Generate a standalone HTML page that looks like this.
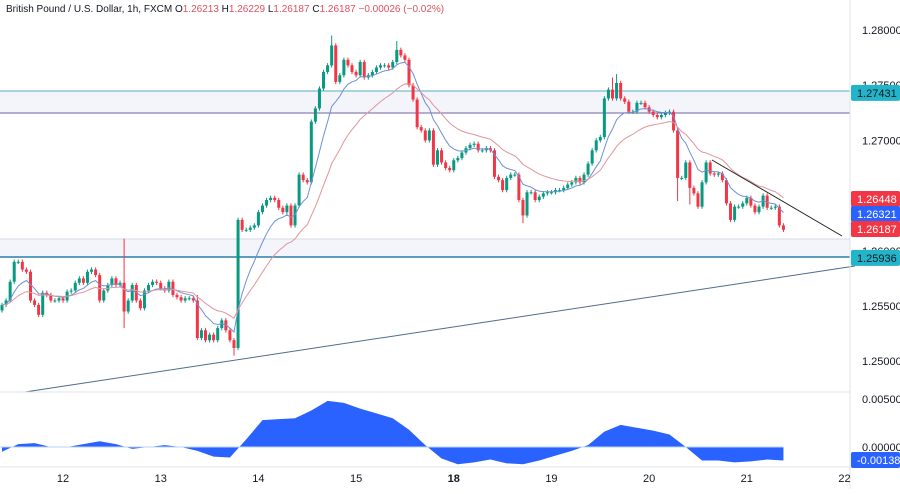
<!DOCTYPE html>
<html><head><meta charset="utf-8"><style>
body{margin:0;background:#fff;font-family:"Liberation Sans",sans-serif;}
svg text{font-family:"Liberation Sans",sans-serif;}
</style></head><body>
<svg id="c" width="900" height="489" viewBox="0 0 900 489">
<rect x="0" y="0" width="900" height="489" fill="#fff"/>
<g id="grid"></g>
<rect x="0" y="91" width="850" height="22" fill="#f4f5fb"/>
<rect x="0" y="239" width="850" height="18" fill="#f4f5fb"/>
<line x1="0" y1="91" x2="850" y2="91" stroke="#5aaebf" stroke-width="1"/>
<line x1="0" y1="113" x2="850" y2="113" stroke="#6d62a8" stroke-width="1"/>
<line x1="0" y1="239" x2="850" y2="239" stroke="#d6dae6" stroke-width="1"/>
<line x1="0" y1="257" x2="850" y2="257" stroke="#2c7fa6" stroke-width="1.5"/>
<line x1="25" y1="392" x2="855" y2="266" stroke="#4f6d8c" stroke-width="1"/>
<g id="candles"></g>
<g id="mas"></g>
<line x1="712" y1="160" x2="842" y2="236" stroke="#222" stroke-width="1"/>
<line x1="0" y1="392" x2="850" y2="392" stroke="#e0e3eb"/>
<line x1="850" y1="0" x2="850" y2="489" stroke="#e0e3eb"/>
<line x1="0" y1="467" x2="900" y2="467" stroke="#e0e3eb"/>
<g id="osc"></g>
<g id="axes"></g>
<text x="6" y="12" font-size="10" fill="#131722">British Pound / U.S. Dollar, 1h, FXCM  <tspan fill="#131722">O</tspan><tspan fill="#e0505d">1.26213</tspan>  <tspan fill="#131722">H</tspan><tspan fill="#e0505d">1.26229</tspan>  <tspan fill="#131722">L</tspan><tspan fill="#e0505d">1.26187</tspan>  <tspan fill="#131722">C</tspan><tspan fill="#e0505d">1.26187  −0.00026 (−0.02%)</tspan></text>
</svg>
<script>
const closes=[1.2551,1.2555,1.2572,1.2590,1.2590,1.2583,1.2581,1.2555,1.2551,1.2542,1.2562,1.2560,1.2555,1.2555,1.2557,1.2555,1.2563,1.2564,1.2571,1.2575,1.2571,1.2581,1.2583,1.2578,1.2555,1.2564,1.2569,1.2575,1.2569,1.2571,1.2545,1.2555,1.2569,1.2555,1.2548,1.2564,1.2569,1.2572,1.2571,1.2566,1.2564,1.2572,1.2560,1.2558,1.2555,1.2557,1.2557,1.2555,1.2521,1.2528,1.2519,1.2524,1.2519,1.2530,1.2537,1.2528,1.2519,1.2512,1.2628,1.2619,1.2619,1.2621,1.2623,1.2635,1.2641,1.2646,1.2648,1.2646,1.2639,1.2635,1.2641,1.2623,1.2641,1.2669,1.2664,1.2662,1.2717,1.2729,1.2747,1.2762,1.2768,1.2786,1.2753,1.2759,1.2773,1.2768,1.2762,1.2759,1.2771,1.2757,1.2759,1.2762,1.2766,1.2768,1.2768,1.2766,1.2771,1.2782,1.2777,1.2773,1.2750,1.2737,1.2712,1.2709,1.2700,1.2709,1.2678,1.2691,1.2680,1.2675,1.2673,1.2682,1.2684,1.2689,1.2693,1.2696,1.2697,1.2691,1.2691,1.2693,1.2691,1.2667,1.2664,1.2655,1.2666,1.2669,1.2669,1.2646,1.2632,1.2653,1.2653,1.2646,1.2649,1.2652,1.2653,1.2653,1.2655,1.2655,1.2657,1.2660,1.2662,1.2666,1.2662,1.2669,1.2679,1.2691,1.2700,1.2703,1.2738,1.2746,1.2738,1.2752,1.2738,1.2735,1.2726,1.2726,1.2734,1.2734,1.2730,1.2726,1.2723,1.2721,1.2723,1.2725,1.2726,1.2709,1.2666,1.2666,1.2680,1.2657,1.2652,1.2640,1.2662,1.2680,1.2670,1.2669,1.2670,1.2664,1.2643,1.2628,1.2640,1.2640,1.2643,1.2648,1.2641,1.2635,1.2640,1.2650,1.2639,1.2639,1.2640,1.2623,1.2619];
const firstOpen=1.2546;
const highSpikes={30:1.2611,81:1.2795,97:1.2790,151:1.2760,150:1.2757,48:1.2560};
const lowSpikes={30:1.2530,57:1.2505,128:1.2625,166:1.2645,169:1.2642};
const oscVals=[-0.0005,0.0003,0.0004,0.0000,0.0000,0.0003,0.0006,0.0003,-0.0002,0.0000,0.0002,0.0000,-0.0004,-0.0010,-0.0011,0.0008,0.0028,0.0029,0.0030,0.0038,0.0048,0.0046,0.0040,0.0035,0.0030,0.0018,0.0002,-0.0012,-0.0018,-0.0016,-0.0013,-0.0017,-0.0018,-0.0014,-0.0009,-0.0004,0.0002,0.0016,0.0023,0.0020,0.0017,0.0013,0.0000,-0.0014,-0.0014,-0.0016,-0.0015,-0.0013,-0.0014];
const priceTicks=[1.28,1.275,1.27,1.265,1.26,1.255,1.25];
const oscTicks=[0.005,0.0];
const dayLabels=["12","13","14","15","18","19","20","21","22"];
const dayBarIdx=[15,39,63,87,111,135,159,183,207];

const NS="http://www.w3.org/2000/svg";
const yP=p=>30+(1.28-p)/0.005*55.2;
const xB=i=>2+i*4.07;
const yO=v=>447-v/0.005*48;
function mk(tag,attrs,parent){const e=document.createElementNS(NS,tag);for(const k in attrs)e.setAttribute(k,attrs[k]);document.getElementById(parent).appendChild(e);return e;}

closes.forEach((c,i)=>{
  const o=i?closes[i-1]:firstOpen;
  const up=c>=o;const col=up?"#089981":"#f23645";
  const hi=highSpikes[i]!==undefined?highSpikes[i]:Math.max(o,c)+0.0002;
  const lo=lowSpikes[i]!==undefined?lowSpikes[i]:Math.min(o,c)-0.0002;
  const x=xB(i);
  const w=mk("line",{x1:x,x2:x,y1:yP(hi),y2:yP(lo),stroke:col,"stroke-width":1},"candles");
  
  
  const top=yP(Math.max(o,c)),h=Math.max(1,yP(Math.min(o,c))-top);
  const b=mk("rect",{x:x-1.5,y:top,width:3,height:h,fill:col},"candles");
  
  
});
function ema(n){const k=2/(n+1);let e=closes[0];return closes.map(c=>e=e+(c-e)*k);}
[[9,"#6f8fd6"],[22,"#e0959b"]].forEach(([n,col])=>{
  const v=ema(n);
  const p=mk("polyline",{points:v.map((y,i)=>xB(i)+","+yP(y)).join(" "),fill:"none",stroke:col,"stroke-width":1},"mas");
  
  
});
const ox=i=>xB(i*4);
let d="M"+ox(0)+","+yO(0);
oscVals.forEach((v,i)=>d+=" L"+ox(i)+","+yO(v));
d+=" L"+ox(oscVals.length-1)+","+yO(0)+" Z";
const area=mk("path",{d:d,fill:"#2962ff"},"osc");


const zl=mk("line",{x1:0,x2:ox(oscVals.length-1),y1:yO(0),y2:yO(0),stroke:"#b9d3f5","stroke-width":1},"osc");


priceTicks.forEach(p=>{
  const t=mk("text",{x:862,y:yP(p)+4,"font-size":11,fill:"#131722"},"axes");t.textContent=p.toFixed(5);
  
  
});
oscTicks.forEach(v=>{
  const t=mk("text",{x:862,y:yO(v)+4,"font-size":11,fill:"#131722"},"axes");t.textContent=v.toFixed(5);
  
  
});
dayLabels.forEach((l,i)=>{
  const t=mk("text",{x:xB(dayBarIdx[i]),y:482,"font-size":11,fill:"#131722","text-anchor":"middle","font-weight":l==="18"?"bold":"normal"},"axes");t.textContent=l;
  
  
});
const tags=[[yP(1.27431),"#22b4c8","1.27431"],[199,"#f23645","1.26448"],[214,"#2962ff","1.26321"],[229,"#f23645","1.26187"],[yP(1.25936),"#22b4c8","1.25936"],[460,"#2962ff","-0.00138"]];
tags.forEach(([y,col,txt])=>{
  const r=mk("rect",{x:851,y:y-8,width:49,height:16,fill:col,rx:2},"axes");
  
  
  const t=mk("text",{x:857,y:y+4,"font-size":11,fill:txt.startsWith("1.25")||txt.startsWith("1.274")?"#131722":"#fff"},"axes");t.textContent=txt;
  
  
});
</script>
</body></html>
